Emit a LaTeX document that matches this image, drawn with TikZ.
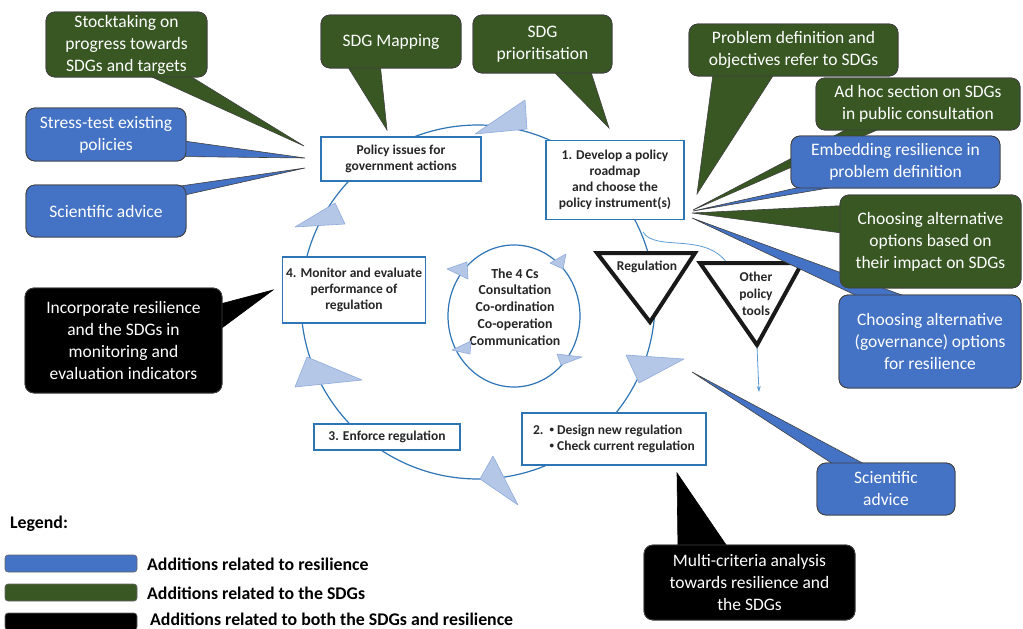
\documentclass[tikz,border=0pt]{standalone}
\usepackage{fontspec}
\setmainfont{Carlito}
\usetikzlibrary{calc,arrows.meta}

\definecolor{resblue}{RGB}{68,114,196}
\definecolor{sdggreen}{RGB}{56,87,35}
\definecolor{stageblue}{RGB}{46,117,182}
\definecolor{headfill}{RGB}{180,199,231}
\definecolor{headedge}{RGB}{143,170,220}
\definecolor{toolline}{RGB}{91,155,213}

\newcommand{\stagebullet}{\raisebox{0.2ex}{\fontsize{9}{9}\selectfont\textbullet}}

\begin{document}
\begin{tikzpicture}[
    x=1pt, y=-1pt,
    callout/.style = {rectangle, rounded corners=9pt, draw=black!75, line width=0.8pt, text=white, align=center, inner sep=2pt, font=\fontsize{17.5}{22}\selectfont},
    rescall/.style = {callout, fill=resblue},
    sdgcall/.style = {callout, fill=sdggreen},
    bothcall/.style = {callout, fill=black},
    respointer/.style = {fill=resblue, draw=black!75, line width=0.6pt, line join=miter},
    sdgpointer/.style = {fill=sdggreen, draw=black!75, line width=0.6pt, line join=miter},
    bothpointer/.style = {fill=black, draw=black, line width=0.6pt, line join=miter},
    stage/.style = {rectangle, draw=stageblue, line width=1.3pt, fill=white, align=center, inner sep=2pt, text=black!85, font=\bfseries\fontsize{13.5}{16}\selectfont},
    cyclehead/.style = {fill=headfill, draw=headedge, line width=0.6pt, line join=round},
    tooltri/.style = {draw=black!90, line width=4pt, fill=white, line join=miter},
    toollabel/.style = {align=center, inner sep=0pt, text=black!85, font=\bfseries\fontsize{13.5}{17}\selectfont},
    swatch/.style = {rectangle, rounded corners=3pt, draw=black!60, line width=0.6pt, minimum width=132, minimum height=17, inner sep=0pt},
    legendtext/.style = {anchor=west, inner sep=0pt, font=\bfseries\fontsize{17.8}{20}\selectfont}
]
    \useasboundingbox (0,0) rectangle (1023,629);

    % Policy cycle
    \draw[stageblue, line width=1.2pt] (478,302) circle [radius=177];
    \draw[stageblue, line width=1.2pt] (514,316) ellipse [x radius=66, y radius=71];
    \node[toollabel, font=\bfseries\fontsize{13.8}{16.8}\selectfont] (fourcs) at (515,307)
        {The 4 Cs\\Consultation\\Co-ordination\\Co-operation\\Communication};

    % Cycle arrowheads
    \filldraw[cyclehead] (475,134) -- (525,100) -- (527,129) -- cycle;
    \filldraw[cyclehead] (626,355) -- (684,359) -- (639,383) -- cycle;
    \filldraw[cyclehead] (493,456) -- (480,479) -- (518,505) -- cycle;
    \filldraw[cyclehead] (295,387) -- (307,357) -- (362,380) -- cycle;
    \filldraw[cyclehead] (295,227) -- (335,203) -- (345,224) -- cycle;
    \filldraw[cyclehead] (447,269) -- (467,262) -- (468,279) -- cycle;
    \filldraw[cyclehead] (550,263) -- (566,254) -- (563,269) -- cycle;
    \filldraw[cyclehead] (452,350) -- (471,341) -- (470,354) -- cycle;
    \filldraw[cyclehead] (557,354) -- (582,357) -- (561,365) -- cycle;

    % Instruments
    \coordinate (toolfork) at (643,232);
    \coordinate (othertop) at (727,263);
    \coordinate (toolend) at (759,392);
    \draw[toolline, line width=0.8pt] (toolfork) .. controls (655,252) and (705,232) .. (othertop);
    \filldraw[tooltri] (597,253) -- (695,253) -- (650,322) -- cycle;
    \filldraw[tooltri] (700,263) -- (802,263) -- (757,345) -- cycle;
    \coordinate (otherbottom) at (757,347);
    \draw[toolline, line width=0.8pt, -{Stealth[length=6pt, width=4pt]}] (otherbottom) -- (toolend);
    \node[toollabel] (reglabel) at (647,267) {Regulation};
    \node[toollabel] (otherlabel) at (756,294) {Other\\policy\\tools};

    % Stages
    \node[stage, minimum width=160, minimum height=44] (issues) at (401,159) {Policy issues for\\government actions};
    \node[stage, minimum width=138, minimum height=79] (develop) at (615,180) {1. Develop a policy\\roadmap\\and choose the\\policy instrument(s)};
    \node[stage, minimum width=184, minimum height=52] (design) at (614,439)
        {\begin{tabular}{@{}l@{\ \ }l@{}}2. & \stagebullet\ Design new regulation\\ & \stagebullet\ Check current regulation\end{tabular}};
    \node[stage, minimum width=146, minimum height=26] (enforce) at (387,437) {3. Enforce regulation};
    \node[stage, minimum width=143, minimum height=66] (monitor) at (354,290) {4. Monitor and evaluate\\performance of\\regulation};

    % Callout tips
    \coordinate (tstock) at (304,146);
    \coordinate (tstress) at (305,158);
    \coordinate (tscil) at (305,168);
    \coordinate (tmapping) at (387,130);
    \coordinate (tprior) at (609,128);
    \coordinate (tprobdef) at (697,194);
    \coordinate (tadhoc) at (693,210);
    \coordinate (tembed) at (693,211);
    \coordinate (tchoose) at (692,213);
    \coordinate (tgovern) at (692,218);
    \coordinate (tscir) at (692,372);
    \coordinate (tmulti) at (677,473);
    \coordinate (tincorp) at (273,290);

    % Callout boxes (placed first, pointers drawn under them below)
    \path
        node[sdgcall, minimum width=161, minimum height=65] (stock) at (126.5,44.5) {}
        node[rescall, minimum width=160, minimum height=53] (stress) at (106,134.5) {}
        node[rescall, minimum width=160, minimum height=52] (scil) at (106,211) {}
        node[sdgcall, minimum width=140, minimum height=53] (mapping) at (391,41.5) {}
        node[sdgcall, minimum width=139, minimum height=58] (prior) at (542.5,44) {}
        node[sdgcall, minimum width=209, minimum height=52] (probdef) at (793.5,50) {}
        node[sdgcall, minimum width=204, minimum height=52] (adhoc) at (918,104) {}
        node[rescall, minimum width=209, minimum height=52] (embed) at (895.5,162) {}
        node[sdgcall, minimum width=181, minimum height=93] (choose) at (930.5,241.5) {}
        node[rescall, minimum width=182, minimum height=93] (govern) at (930,341.5) {}
        node[rescall, minimum width=138, minimum height=52] (scir) at (886,489) {}
        node[bothcall, minimum width=211, minimum height=75] (multi) at (749.5,582.5) {}
        node[bothcall, minimum width=197, minimum height=105] (incorp) at (123.5,340.5) {};

    % Pointers
    \filldraw[sdgpointer] ($(stock.south)+(13,-6)$) -- (tstock) -- ($(stock.south)+(56,-6)$) -- cycle;
    \filldraw[respointer] ($(stress.east)+(-6,6)$) -- (tstress) -- ($(stress.east)+(-6,22)$) -- cycle;
    \filldraw[respointer] ($(scil.east)+(-6,-25)$) -- (tscil) -- ($(scil.east)+(-6,-15)$) -- cycle;
    \filldraw[sdgpointer] ($(mapping.south)+(-46,-6)$) -- (tmapping) -- ($(mapping.south)+(-11,-6)$) -- cycle;
    \filldraw[sdgpointer] ($(prior.south)+(7,-6)$) -- (tprior) -- ($(prior.south)+(47,-6)$) -- cycle;
    \filldraw[sdgpointer] ($(probdef.south)+(-80,-6)$) -- (tprobdef) -- ($(probdef.south)+(-17,-6)$) -- cycle;
    \filldraw[sdgpointer] ($(adhoc.south)+(-62,-6)$) -- (tadhoc) -- ($(adhoc.south)+(-28,-6)$) -- cycle;
    \filldraw[respointer] ($(govern.north)+(-63,6)$) -- (tgovern) -- ($(govern.north)+(-13,6)$) -- cycle;
    \filldraw[sdgpointer] ($(choose.west)+(6,-36)$) -- (tchoose) -- ($(choose.west)+(6,-8)$) -- cycle;
    \filldraw[respointer] ($(embed.south)+(-74,-6)$) -- (tembed) -- ($(embed.south)+(-34,-6)$) -- cycle;
    \filldraw[respointer] ($(scir.north)+(-46,6)$) -- (tscir) -- ($(scir.north)+(-13,6)$) -- cycle;
    \filldraw[bothpointer] ($(multi.north)+(-71.5,6)$) -- (tmulti) -- ($(multi.north)+(-19.5,6)$) -- cycle;
    \filldraw[bothpointer] ($(incorp.east)+(-6,-35.5)$) -- (tincorp) -- ($(incorp.east)+(-6,-8.5)$) -- cycle;

    % Callout texts
    \node[sdgcall, minimum width=161, minimum height=65] at (stock) {Stocktaking on\\progress towards\\SDGs and targets};
    \node[rescall, minimum width=160, minimum height=53] at (stress) {Stress-test existing\\policies};
    \node[rescall, minimum width=160, minimum height=52] at (scil) {Scientific advice};
    \node[sdgcall, minimum width=140, minimum height=53] at (mapping) {SDG Mapping};
    \node[sdgcall, minimum width=139, minimum height=58] at (prior) {SDG\\prioritisation};
    \node[sdgcall, minimum width=209, minimum height=52] at (probdef) {Problem definition and\\objectives refer to SDGs};
    \node[sdgcall, minimum width=204, minimum height=52] at (adhoc) {Ad hoc section on SDGs\\in public consultation};
    \node[rescall, minimum width=182, minimum height=93] at (govern) {Choosing alternative\\(governance) options\\for resilience};
    \node[sdgcall, minimum width=181, minimum height=93] at (choose) {Choosing alternative\\options based on\\their impact on SDGs};
    \node[rescall, minimum width=209, minimum height=52] at (embed) {Embedding resilience in\\problem definition};
    \node[rescall, minimum width=138, minimum height=52] at (scir) {Scientific\\advice};
    \node[bothcall, minimum width=211, minimum height=75] at (multi) {Multi-criteria analysis\\towards resilience and\\the SDGs};
    \node[bothcall, minimum width=197, minimum height=105] at (incorp) {Incorporate resilience\\and the SDGs in\\monitoring and\\evaluation indicators};

    % Legend
    \node[legendtext] (legend) at (10,524) {Legend:};
    \node[swatch, fill=resblue] (swres) at (71,563.5) {};
    \node[swatch, fill=sdggreen] (swsdg) at (71,592.5) {};
    \node[swatch, fill=black] (swboth) at (71,621.5) {};
    \node[legendtext] (lgres) at (147,564) {Additions related to resilience};
    \node[legendtext] (lgsdg) at (147,593) {Additions related to the SDGs};
    \node[legendtext] (lgboth) at (150,619) {Additions related to both the SDGs and resilience};

\end{tikzpicture}
\end{document}
